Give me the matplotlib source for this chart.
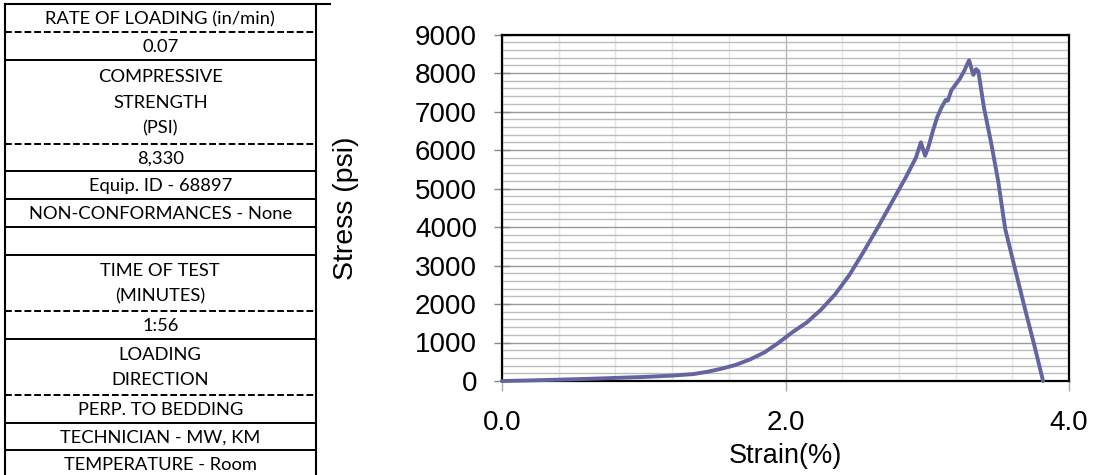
import matplotlib
matplotlib.use("Agg")
import matplotlib.pyplot as plt
from matplotlib.ticker import MultipleLocator

# ---------------- data ----------------
strain = [0.00, 0.20, 0.40, 0.60, 0.80, 1.00, 1.20, 1.35, 1.45, 1.55, 1.65, 1.75,
          1.85, 1.95, 2.05, 2.15, 2.25, 2.35, 2.45, 2.55, 2.65, 2.75, 2.85, 2.92,
          2.955, 2.985, 3.01, 3.04, 3.07, 3.10, 3.13, 3.145, 3.17, 3.20, 3.23,
          3.26, 3.295, 3.325, 3.345, 3.36, 3.375, 3.40, 3.45, 3.50, 3.55, 3.62,
          3.70, 3.76, 3.817]
stress = [0, 15, 35, 55, 80, 105, 140, 180, 240, 320, 420, 560,
          740, 990, 1270, 1520, 1850, 2250, 2750, 3350, 3980, 4640, 5300, 5800,
          6200, 5850, 6100, 6500, 6850, 7100, 7300, 7280, 7550, 7700, 7850,
          8050, 8330, 7950, 8100, 8050, 7700, 7100, 6200, 5200, 3950, 2900,
          1720, 860, 0]

x_ticks = [0.0, 2.0, 4.0]
x_tick_labels = ["0.0", "2.0", "4.0"]
y_ticks = [0, 1000, 2000, 3000, 4000, 5000, 6000, 7000, 8000, 9000]
y_tick_labels = [str(v) for v in y_ticks]
x_label = "Strain(%)"
y_label = "Stress (psi)"

# table rows: (text lines, style of bottom border)
table_rows = [
    (["RATE OF LOADING (in/min)"], "dashed"),
    (["0.07"], "solid"),
    (["COMPRESSIVE", "STRENGTH", "(PSI)"], "dashed"),
    (["8,330"], "solid"),
    (["Equip. ID - 68897"], "solid"),
    (["NON-CONFORMANCES - None"], "solid"),
    ([""], "solid"),
    (["TIME OF TEST", "(MINUTES)"], "dashed"),
    (["1:56"], "solid"),
    (["LOADING", "DIRECTION"], "dashed"),
    (["PERP. TO BEDDING"], "solid"),
    (["TECHNICIAN - MW, KM"], "solid"),
    (["TEMPERATURE - Room"], "none"),
]

# ---------------- figure ----------------
W, H = 1112, 475
fig = plt.figure(figsize=(W / 100, H / 100), dpi=100)

# table overlay (pixel coordinates)
tax = fig.add_axes([0, 0, 1, 1])
tax.set_xlim(0, W)
tax.set_ylim(H, 0)
tax.axis("off")

tl, tr, ttop = 5, 315.5, 4
line_h = 27.9
text_gap = 25.5
tax.plot([tl, 330], [ttop, ttop], color="black", lw=1.5)
tax.plot([tl, tl], [ttop, H], color="black", lw=1.5)
tax.plot([tr, tr], [ttop, H], color="black", lw=1.5)
y = ttop
for lines, style in table_rows:
    h = line_h * len(lines)
    cy = y + h / 2
    n = len(lines)
    for i, t in enumerate(lines):
        ty = cy + (i - (n - 1) / 2) * text_gap + 1
        tax.text((tl + tr) / 2, ty, t, ha="center", va="center",
                 fontsize=13.2, family=["Lato", "DejaVu Sans"], color="black")
    y += h
    if style == "solid":
        tax.plot([tl, tr], [y, y], color="black", lw=1.4)
    elif style == "dashed":
        tax.plot([tl, tr], [y, y], color="black", lw=1.4, dashes=(3.5, 1.5))

# chart axes
left, right, top, bottom = 502, 1069, 34.5, 381
ax = fig.add_axes([left / W, 1 - bottom / H, (right - left) / W, (bottom - top) / H])
ax.plot(strain, stress, color="#6464a0", lw=2.8, solid_joinstyle="round",
        solid_capstyle="round", zorder=3, clip_on=False)
ax.set_xlim(0, 4)
ax.set_ylim(0, 9000)
ax.set_xticks(x_ticks)
ax.set_xticklabels(x_tick_labels)
ax.set_yticks(y_ticks)
ax.set_yticklabels(y_tick_labels)
ax.xaxis.set_minor_locator(MultipleLocator(0.4))
ax.yaxis.set_minor_locator(MultipleLocator(200))

ax.grid(which="minor", axis="x", color="#e4e4e4", lw=1.0)
ax.grid(which="major", axis="x", color="#b4b4b4", lw=1.0)
ax.grid(which="minor", axis="y", color="#bcbcbc", lw=1.0)
ax.grid(which="major", axis="y", color="#9a9a9a", lw=1.0)
ax.set_axisbelow(True)

for s in ax.spines.values():
    s.set_color("black")
    s.set_linewidth(1.6)

fam = ["Liberation Sans", "DejaVu Sans"]
ax.tick_params(axis="y", which="major", direction="inout", length=12, width=1,
               color="#888888", pad=12)
ax.tick_params(axis="x", which="major", direction="out", length=7, width=1,
               color="#aaaaaa", pad=14)
ax.tick_params(which="minor", length=0)
for lab in ax.get_xticklabels() + ax.get_yticklabels():
    lab.set_fontfamily(fam)
    lab.set_fontsize(20)

ax.set_xlabel(x_label, fontsize=19.5, family=fam, labelpad=5)
ax.set_ylabel(y_label, fontsize=20.5, family=fam, labelpad=40)

fig.savefig("out.png", dpi=100)
